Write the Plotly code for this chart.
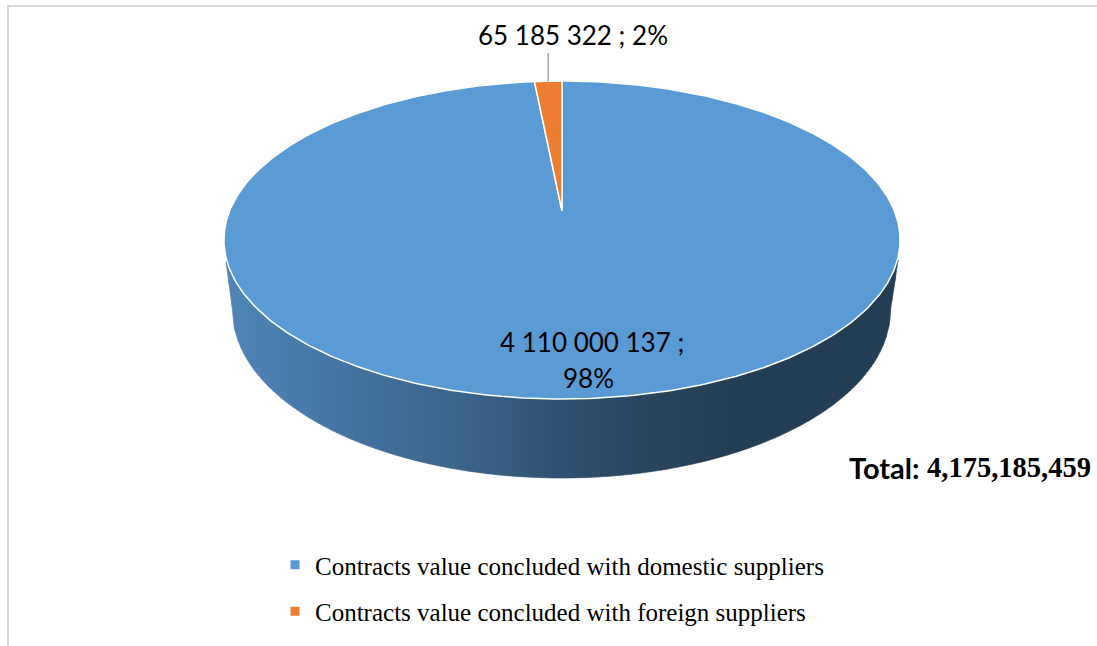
import numpy as np
import plotly.graph_objects as go

categories = ["Contracts value concluded with domestic suppliers",
              "Contracts value concluded with foreign suppliers"]
values = [4110000137, 65185322]
slice_colors = ["#5b9bd5", "#ed7d31"]
value_labels = ["4 110 000 137 ;", "65 185 322 ; 2%"]
share_label = "98%"
total_label = "4,175,185,459"

# Perspective disk projection (pixel-based axes)
CX, APEX_Y, K, A, B = 562.0, 211.0, -0.1824, 153.7, 332.4
TOP_CY, TOP_RY, TOP_RX = 240.0, 159.0, 338.0
BOT_CX, BOT_CY, BOT_RX, BOT_RY = 561.5, 310.0, 329.0, 168.0
GRAD_X = [226, 240, 340, 480, 560, 650, 720, 900]
GRAD_R = [0x52, 0x50, 0x46, 0x3a, 0x30, 0x2a, 0x25, 0x24]
GRAD_G = [0x86, 0x84, 0x75, 0x62, 0x52, 0x46, 0x3f, 0x3e]
GRAD_B = [0xb8, 0xb6, 0xa3, 0x86, 0x73, 0x5f, 0x56, 0x55]


def project(theta):
    u, v = np.sin(theta), -np.cos(theta)
    d = 1 + K * v
    return CX + B * u / d, APEX_Y + A * v / d


fig = go.Figure()

# Side wall as vertical gradient strips
edges = np.arange(226, 899, 3.0)
edges = np.append(edges, 898.0)


def lower(x):
    x = np.asarray(x, float)
    t = np.clip((x - BOT_CX) / BOT_RX, -1, 1)
    y = BOT_CY + BOT_RY * np.sqrt(1 - t * t)
    y = np.where(x < 232.5, 262 + (x - 226) / 6.5 * (BOT_CY - 262), y)
    y = np.where(x > 890.5, 262 + (898 - x) / 7.5 * (BOT_CY - 262), y)
    return y


for x0, x1 in zip(edges[:-1], edges[1:]):
    xm = (x0 + x1) / 2
    col = "rgb(%d,%d,%d)" % (np.interp(xm, GRAD_X, GRAD_R),
                             np.interp(xm, GRAD_X, GRAD_G),
                             np.interp(xm, GRAD_X, GRAD_B))
    xs = np.linspace(x0, x1, 4)
    fig.add_trace(go.Scatter(
        x=np.r_[xs, xs[::-1]], y=np.r_[lower(xs), np.full(4, TOP_CY + 20)],
        mode="lines", fill="toself", fillcolor=col, line=dict(color=col, width=0.6),
        hoverinfo="skip", showlegend=False))

# Top face slices: foreign slice ends at 12 o'clock, domestic takes the rest
frac = np.array(values, float) / sum(values)
th_split = -2 * np.pi * frac[1]
spans = [(0.0, 2 * np.pi + th_split), (th_split, 0.0)]
for i, (a0, a1) in enumerate(spans):
    th = np.linspace(a0, a1, 500 if i == 0 else 20)
    px, py = project(th)
    fig.add_trace(go.Scatter(
        x=np.r_[CX, px, CX], y=np.r_[APEX_Y, py, APEX_Y],
        mode="lines", fill="toself", fillcolor=slice_colors[i],
        line=dict(color="white", width=1.5), hoverinfo="skip", showlegend=False))

# Legend entries
for name, col in zip(categories, slice_colors):
    fig.add_trace(go.Scatter(
        x=[None], y=[None], mode="markers", name=name, legendgroup=name,
        marker=dict(symbol="square", size=9, color=col)))

# Leader line
lx, ly = project(th_split * 0.5)
fig.add_trace(go.Scatter(x=[lx, lx], y=[53, ly], mode="lines",
                         line=dict(color="#a6a6a6", width=1.5),
                         hoverinfo="skip", showlegend=False))

SANS = "Lato, Carlito, sans-serif"
SERIF = "Liberation Serif, serif"
BLACK = "#000000"


def note(x, y, text, size, family, anchor="center"):
    fig.add_annotation(x=x, y=y, text=text, showarrow=False, xanchor=anchor, yanchor="middle",
                       font=dict(size=size, family=family, color=BLACK))


note(573, 35, value_labels[1], 26, SANS)
note(591.5, 342, value_labels[0], 26, SANS)
note(588, 378, share_label, 26, SANS)
note(847, 467, "<b>Total:</b>", 29, SANS, "left")
note(925, 467, "<b>%s</b>" % total_label, 28.5, SERIF, "left")

frame = dict(color="#d9d9d9", width=2)
fig.update_layout(
    width=1097, height=646, margin=dict(l=0, r=0, t=0, b=0),
    paper_bgcolor="white", plot_bgcolor="white",
    xaxis=dict(range=[0, 1097], visible=False, fixedrange=True),
    yaxis=dict(range=[646, 0], visible=False, fixedrange=True),
    legend=dict(x=275 / 1097, y=1 - 542 / 646, xanchor="left", yanchor="top",
                font=dict(family=SERIF, size=25, color=BLACK),
                tracegroupgap=11, itemwidth=30, bgcolor="rgba(0,0,0,0)"),
    shapes=[
        dict(type="line", xref="x", yref="y", x0=7, x1=1097, y0=6, y1=6, line=frame),
        dict(type="line", xref="x", yref="y", x0=8, x1=8, y0=5, y1=646, line=frame),
    ],
)
fig.write_html("out.html", config={"displayModeBar": False},
               post_script="document.body.style.margin='0';document.body.style.overflow='hidden';")
